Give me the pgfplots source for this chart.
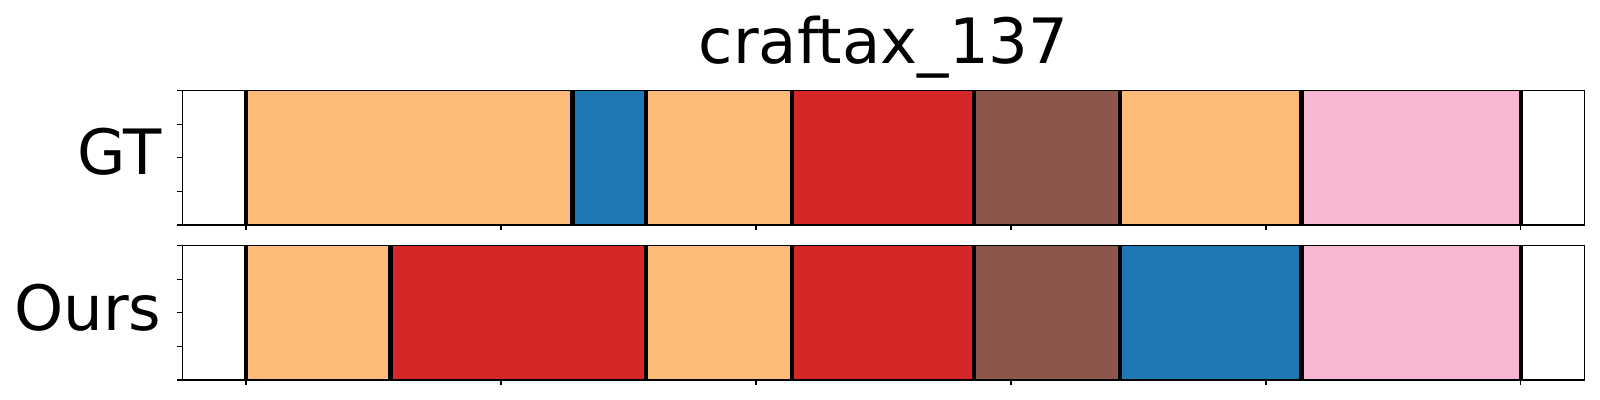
\documentclass[border=0pt]{standalone}
\usepackage{pgfplots}
\pgfplotsset{compat=1.18}
\usepackage{fontspec}
\setmainfont{DejaVu Sans}
\definecolor{corange}{HTML}{FFBB78}
\definecolor{cblue}{HTML}{1F77B4}
\definecolor{cred}{HTML}{D62728}
\definecolor{cbrown}{HTML}{8C564B}
\definecolor{cpink}{HTML}{F7B6D2}
\pgfplotsset{segaxis/.style={
  scale only axis, width=1009.8pt, height=96.8pt,
  xmin=-25, xmax=525, ymin=0, ymax=1,
  xtick={0,100,...,500}, ytick={0,0.25,0.5,0.75,1},
  xticklabels={}, yticklabels={},
  tick align=outside, xtick pos=left, ytick pos=left,
  major tick length=3.5pt,
  every tick/.style={black, line width=0.8pt},
  axis line style={line width=0.8pt},
  axis on top, clip=false, anchor=south west,
}}
\newcommand{\bigfont}{\fontsize{45}{54}\selectfont}
\begin{document}
\begin{tikzpicture}
\path[use as bounding box] (0,0) rectangle (1152pt,288pt);
% GT
\begin{axis}[segaxis, at={(131.2pt,126pt)}]
\addplot[fill=corange, draw=corange!85!black, line width=0.3pt] coordinates {(0,0) (128.1,0) (128.1,1) (0,1)} --cycle;
\addplot[fill=cblue, draw=cblue!85!black, line width=0.3pt] coordinates {(128.1,0) (156.9,0) (156.9,1) (128.1,1)} --cycle;
\addplot[fill=corange, draw=corange!85!black, line width=0.3pt] coordinates {(156.9,0) (214.1,0) (214.1,1) (156.9,1)} --cycle;
\addplot[fill=cred, draw=cred!85!black, line width=0.3pt] coordinates {(214.1,0) (285.5,0) (285.5,1) (214.1,1)} --cycle;
\addplot[fill=cbrown, draw=cbrown!85!black, line width=0.3pt] coordinates {(285.5,0) (342.7,0) (342.7,1) (285.5,1)} --cycle;
\addplot[fill=corange, draw=corange!85!black, line width=0.3pt] coordinates {(342.7,0) (414.0,0) (414.0,1) (342.7,1)} --cycle;
\addplot[fill=cpink, draw=cpink!85!black, line width=0.3pt] coordinates {(414.0,0) (500,0) (500,1) (414.0,1)} --cycle;
\addplot[ycomb, black, line width=3.2pt, mark=none] coordinates {(0,1) (128.1,1) (156.9,1) (214.1,1) (285.5,1) (342.7,1) (414.0,1) (500,1)};
\node[anchor=base, inner sep=0pt, yshift=19.7pt, font=\bigfont] at (rel axis cs:0.5,1) {craftax\_137};
\node[anchor=base east, inner sep=0pt, xshift=-14.8pt, font=\bigfont] at (rel axis cs:0,0.372) {GT};
\end{axis}
% Ours
\begin{axis}[segaxis, at={(131.2pt,14.4pt)}]
\addplot[fill=corange, draw=corange!85!black, line width=0.3pt] coordinates {(0,0) (56.7,0) (56.7,1) (0,1)} --cycle;
\addplot[fill=cred, draw=cred!85!black, line width=0.3pt] coordinates {(56.7,0) (156.9,0) (156.9,1) (56.7,1)} --cycle;
\addplot[fill=corange, draw=corange!85!black, line width=0.3pt] coordinates {(156.9,0) (214.1,0) (214.1,1) (156.9,1)} --cycle;
\addplot[fill=cred, draw=cred!85!black, line width=0.3pt] coordinates {(214.1,0) (285.5,0) (285.5,1) (214.1,1)} --cycle;
\addplot[fill=cbrown, draw=cbrown!85!black, line width=0.3pt] coordinates {(285.5,0) (342.7,0) (342.7,1) (285.5,1)} --cycle;
\addplot[fill=cblue, draw=cblue!85!black, line width=0.3pt] coordinates {(342.7,0) (414.0,0) (414.0,1) (342.7,1)} --cycle;
\addplot[fill=cpink, draw=cpink!85!black, line width=0.3pt] coordinates {(414.0,0) (500,0) (500,1) (414.0,1)} --cycle;
\addplot[ycomb, black, line width=3.2pt, mark=none] coordinates {(0,1) (56.7,1) (156.9,1) (214.1,1) (285.5,1) (342.7,1) (414.0,1) (500,1)};
\node[anchor=base east, inner sep=0pt, xshift=-14.8pt, font=\bigfont] at (rel axis cs:0,0.367) {Ours};
\end{axis}
\end{tikzpicture}
\end{document}
